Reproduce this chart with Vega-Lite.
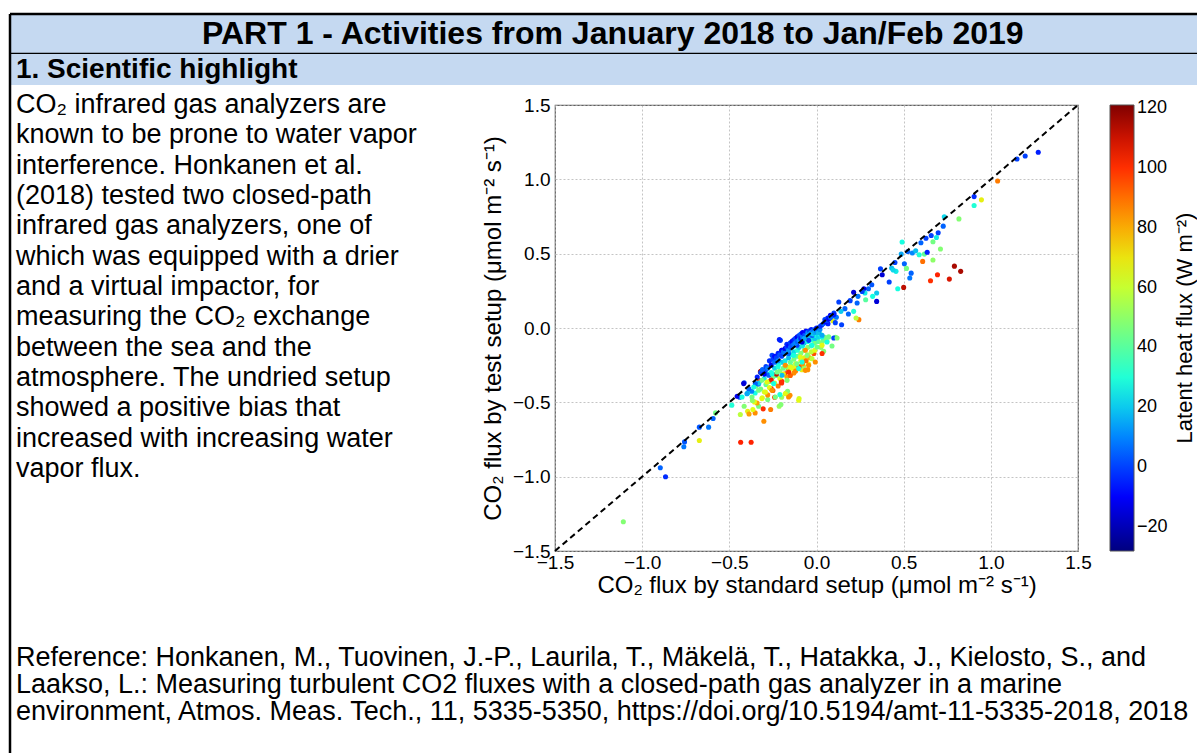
{
  "$schema": "https://vega.github.io/schema/vega-lite/v6.json",
  "background": "white",
  "padding": {"left": 8, "top": 12, "right": 0, "bottom": 0},
  "config": {"view": {"stroke": null}, "font": "Liberation Sans"},
  "bounds": "flush",
  "spacing": 0,
  "vconcat": [
    {
      "width": 1189,
      "height": 40,
      "view": {"fill": "#c5d9f1", "stroke": null},
      "data": {"values": [{"t": "PART 1 - Activities from January 2018 to Jan/Feb 2019"}]},
      "layer": [
        {
          "mark": {"type": "text", "fontSize": 32, "fontWeight": "bold", "font": "Liberation Sans", "baseline": "middle", "align": "center", "color": "black"},
          "encoding": {
            "text": {"field": "t"},
            "x": {"datum": 0.507, "type": "quantitative", "scale": {"domain": [0, 1]}, "axis": null},
            "y": {"datum": 0.5, "type": "quantitative", "scale": {"domain": [0, 1]}, "axis": null}
          }
        },
        {"mark": {"type": "rule", "color": "black", "strokeWidth": 2.5}, "encoding": {"y": {"datum": 1, "type": "quantitative", "scale": {"domain": [0, 1]}, "axis": null}}},
        {"mark": {"type": "rule", "color": "black", "strokeWidth": 2.5}, "encoding": {"y": {"datum": 0, "type": "quantitative", "scale": {"domain": [0, 1]}, "axis": null}}},
        {"mark": {"type": "rule", "color": "black", "strokeWidth": 2.5}, "encoding": {"x": {"datum": 0, "type": "quantitative", "scale": {"domain": [0, 1]}, "axis": null}}}
      ]
    },
    {
      "width": 1189,
      "height": 31,
      "view": {"fill": "#c5d9f1", "stroke": null},
      "data": {"values": [{"t": "1. Scientific highlight"}]},
      "layer": [
        {
          "mark": {"type": "text", "fontSize": 28, "fontWeight": "bold", "font": "Liberation Sans", "baseline": "middle", "align": "left", "color": "black"},
          "encoding": {
            "text": {"field": "t"},
            "x": {"datum": 0.005, "type": "quantitative", "scale": {"domain": [0, 1]}, "axis": null},
            "y": {"datum": 0.5, "type": "quantitative", "scale": {"domain": [0, 1]}, "axis": null}
          }
        },
        {"mark": {"type": "rule", "color": "black", "strokeWidth": 2.5}, "encoding": {"x": {"datum": 0, "type": "quantitative", "scale": {"domain": [0, 1]}, "axis": null}}}
      ]
    },
    {
      "bounds": "flush",
      "spacing": 0,
      "hconcat": [
        {
          "width": 545,
          "height": 670,
          "layer": [
            {
              "data": {"values": [{"a": 0}]},
              "mark": {"type": "rule", "color": "black", "strokeWidth": 2.5},
              "encoding": {"x": {"datum": 0, "type": "quantitative", "scale": {"domain": [0, 1]}, "axis": null}}
            },
            {
              "data": {"values": [
                {"line": 1, "t": "CO₂ infrared gas analyzers are"},
                {"line": 2, "t": "known to be prone to water vapor"},
                {"line": 3, "t": "interference. Honkanen et al."},
                {"line": 4, "t": "(2018) tested two closed-path"},
                {"line": 5, "t": "infrared gas analyzers, one of"},
                {"line": 6, "t": "which was equipped with a drier"},
                {"line": 7, "t": "and a virtual impactor, for"},
                {"line": 8, "t": "measuring the CO₂ exchange"},
                {"line": 9, "t": "between the sea and the"},
                {"line": 10, "t": "atmosphere. The undried setup"},
                {"line": 11, "t": "showed a positive bias that"},
                {"line": 12, "t": "increased with increasing water"},
                {"line": 13, "t": "vapor flux."}
              ]},
              "mark": {"type": "text", "fontSize": 27, "font": "Liberation Sans", "baseline": "middle", "align": "left", "color": "black"},
              "encoding": {
                "text": {"field": "t"},
                "x": {"datum": 0.011, "type": "quantitative", "scale": {"domain": [0, 1]}, "axis": null},
                "y": {"field": "line", "type": "quantitative", "scale": {"domain": [1, 13], "range": [20, 384]}, "axis": null}
              }
            },
            {
              "data": {"values": [
                {"line": 1, "t": "Reference: Honkanen, M., Tuovinen, J.-P., Laurila, T., Mäkelä, T., Hatakka, J., Kielosto, S., and"},
                {"line": 2, "t": "Laakso, L.: Measuring turbulent CO2 fluxes with a closed-path gas analyzer in a marine"},
                {"line": 3, "t": "environment, Atmos. Meas. Tech., 11, 5335-5350, https://doi.org/10.5194/amt-11-5335-2018, 2018"}
              ]},
              "mark": {"type": "text", "fontSize": 27, "font": "Liberation Sans", "baseline": "middle", "align": "left", "color": "black"},
              "encoding": {
                "text": {"field": "t"},
                "x": {"datum": 0.011, "type": "quantitative", "scale": {"domain": [0, 1]}, "axis": null},
                "y": {"field": "line", "type": "quantitative", "scale": {"domain": [1, 3], "range": [573, 627]}, "axis": null}
              }
            }
          ],
          "resolve": {"scale": {"y": "independent"}}
        },
        {
          "bounds": "flush",
          "spacing": 0,
          "vconcat": [
            {
              "width": 523,
              "height": 20,
              "data": {"values": [{"a": 0}]},
              "mark": {"type": "text", "text": ""}
            },
            {
              "width": 523,
              "height": 446,
              "view": {"stroke": "#606060", "strokeWidth": 1.2},
              "layer": [
                {
                  "data": {"values": [
{"x":1.272,"y":1.182,"c":-5},{"x":1.197,"y":1.157,"c":0},{"x":1.150,"y":1.137,"c":0},{"x":1.039,"y":0.989,"c":88},{"x":0.904,"y":0.884,"c":-3},{"x":0.904,"y":0.824,"c":30},{"x":0.946,"y":0.862,"c":68},{"x":0.817,"y":0.734,"c":48},{"x":0.733,"y":0.748,"c":22},{"x":0.727,"y":0.685,"c":5},
{"x":0.698,"y":0.640,"c":0},{"x":0.688,"y":0.609,"c":25},{"x":0.658,"y":0.622,"c":0},{"x":0.668,"y":0.580,"c":45},{"x":0.599,"y":0.573,"c":5},{"x":0.628,"y":0.604,"c":0},{"x":0.711,"y":0.531,"c":48},{"x":0.491,"y":0.578,"c":28},{"x":0.486,"y":0.497,"c":15},{"x":0.524,"y":0.515,"c":5},
{"x":0.550,"y":0.504,"c":10},{"x":0.569,"y":0.519,"c":18},{"x":0.589,"y":0.493,"c":30},{"x":0.619,"y":0.497,"c":42},{"x":0.635,"y":0.510,"c":-5},{"x":0.609,"y":0.448,"c":90},{"x":0.668,"y":0.457,"c":50},{"x":0.791,"y":0.416,"c":115},{"x":0.827,"y":0.381,"c":115},{"x":0.694,"y":0.358,"c":102},
{"x":0.762,"y":0.329,"c":108},{"x":0.654,"y":0.318,"c":100},{"x":0.504,"y":0.432,"c":5},{"x":0.516,"y":0.401,"c":45},{"x":0.543,"y":0.369,"c":5},{"x":0.535,"y":0.336,"c":8},{"x":0.500,"y":0.273,"c":112},{"x":0.466,"y":0.264,"c":28},{"x":0.417,"y":0.309,"c":0},{"x":0.450,"y":0.441,"c":0},
{"x":0.431,"y":0.403,"c":18},{"x":0.456,"y":0.381,"c":25},{"x":0.440,"y":0.390,"c":22},{"x":0.367,"y":0.398,"c":0},{"x":0.377,"y":0.358,"c":-15},{"x":0.317,"y":0.291,"c":3},{"x":0.345,"y":0.235,"c":20},{"x":0.345,"y":0.179,"c":-15},{"x":0.322,"y":0.213,"c":28},{"x":0.298,"y":0.264,"c":5},
{"x":0.272,"y":0.264,"c":-12},{"x":0.278,"y":0.235,"c":25},{"x":0.282,"y":0.190,"c":40},{"x":0.262,"y":0.246,"c":0},{"x":0.213,"y":0.240,"c":-15},{"x":0.193,"y":0.184,"c":0},{"x":0.233,"y":0.168,"c":5},{"x":0.238,"y":0.213,"c":8},{"x":0.243,"y":0.056,"c":88},{"x":0.227,"y":0.067,"c":58},
{"x":0.128,"y":0.175,"c":0},{"x":0.163,"y":0.130,"c":5},{"x":0.144,"y":0.022,"c":0},{"x":0.140,"y":0.112,"c":20},{"x":0.183,"y":0.094,"c":5},{"x":0.213,"y":0.112,"c":30},{"x":0.109,"y":-0.063,"c":45},{"x":0.094,"y":0.049,"c":68},{"x":0.080,"y":0.085,"c":-10},{"x":0.064,"y":0.067,"c":-5},
{"x":0.048,"y":0.056,"c":0},{"x":0.054,"y":0.045,"c":-15},{"x":0.114,"y":0.072,"c":8},{"x":0.100,"y":0.100,"c":0},{"x":-0.486,"y":-0.519,"c":30},{"x":-0.441,"y":-0.466,"c":5},{"x":-0.455,"y":-0.459,"c":-12},{"x":-0.415,"y":-0.369,"c":0},{"x":-0.579,"y":-0.571,"c":45},{"x":-0.593,"y":-0.609,"c":5},
{"x":-0.619,"y":-0.667,"c":8},{"x":-0.672,"y":-0.667,"c":3},{"x":-0.672,"y":-0.757,"c":68},{"x":-0.757,"y":-0.766,"c":3},{"x":-0.761,"y":-0.799,"c":8},{"x":-0.896,"y":-0.940,"c":5},{"x":-0.866,"y":-1.001,"c":-3},{"x":-1.108,"y":-1.303,"c":48},{"x":-0.435,"y":-0.768,"c":102},{"x":-0.375,"y":-0.768,"c":102},
{"x":-0.302,"y":-0.627,"c":85},{"x":-0.437,"y":-0.582,"c":58},{"x":-0.395,"y":-0.560,"c":68},{"x":-0.387,"y":-0.578,"c":82},{"x":-0.352,"y":-0.571,"c":85},{"x":-0.415,"y":-0.526,"c":48},{"x":-0.365,"y":-0.548,"c":65},{"x":-0.306,"y":-0.544,"c":100},{"x":-0.263,"y":-0.548,"c":88},{"x":-0.214,"y":-0.526,"c":52},
{"x":-0.204,"y":-0.515,"c":48},{"x":-0.332,"y":-0.526,"c":45},{"x":-0.341,"y":-0.504,"c":82},{"x":-0.356,"y":-0.497,"c":66},{"x":-0.368,"y":-0.488,"c":50},{"x":-0.311,"y":-0.470,"c":62},{"x":-0.260,"y":-0.407,"c":100},{"x":-0.240,"y":-0.466,"c":98},{"x":-0.280,"y":-0.481,"c":45},{"x":-0.200,"y":-0.466,"c":52},
{"x":-0.100,"y":-0.475,"c":62},{"x":-0.152,"y":-0.452,"c":85},{"x":-0.175,"y":-0.437,"c":68},{"x":-0.166,"y":-0.425,"c":48},{"x":-0.210,"y":-0.448,"c":30},{"x":-0.199,"y":-0.358,"c":102},{"x":-0.327,"y":-0.354,"c":98},{"x":-0.320,"y":-0.291,"c":112},{"x":-0.352,"y":-0.437,"c":28},{"x":-0.372,"y":-0.425,"c":10},
{"x":-0.395,"y":-0.437,"c":20},{"x":-0.348,"y":-0.392,"c":45},{"x":-0.333,"y":-0.376,"c":5},{"x":-0.163,"y":-0.291,"c":112},{"x":-0.183,"y":-0.309,"c":100},{"x":-0.130,"y":-0.302,"c":85},{"x":-0.084,"y":-0.280,"c":68},{"x":-0.050,"y":-0.280,"c":85},{"x":-0.045,"y":-0.242,"c":65},{"x":-0.015,"y":-0.172,"c":95},
{"x":0.048,"y":-0.063,"c":45},{"x":0.041,"y":-0.157,"c":48},{"x":0.025,"y":-0.130,"c":50},{"x":-0.074,"y":-0.257,"c":52},{"x":-0.144,"y":-0.257,"c":48},{"x":-0.118,"y":-0.269,"c":66},
{"x":-0.32,"y":-0.41,"c":45},{"x":-0.29,"y":-0.38,"c":42},{"x":-0.27,"y":-0.36,"c":50},{"x":-0.25,"y":-0.33,"c":45},{"x":-0.23,"y":-0.32,"c":40},{"x":-0.21,"y":-0.29,"c":48},{"x":-0.19,"y":-0.27,"c":44},{"x":-0.17,"y":-0.26,"c":50},{"x":-0.15,"y":-0.23,"c":42},{"x":-0.13,"y":-0.21,"c":46},
{"x":-0.11,"y":-0.19,"c":40},{"x":-0.09,"y":-0.17,"c":48},{"x":-0.07,"y":-0.15,"c":44},{"x":-0.05,"y":-0.13,"c":50},{"x":-0.03,"y":-0.12,"c":42},{"x":-0.01,"y":-0.10,"c":46},{"x":0.01,"y":-0.09,"c":40},{"x":0.03,"y":-0.10,"c":48},{"x":0.04,"y":-0.08,"c":44},{"x":0.06,"y":-0.09,"c":50},
{"x":-0.30,"y":-0.43,"c":62},{"x":-0.27,"y":-0.40,"c":66},{"x":-0.24,"y":-0.37,"c":60},{"x":-0.21,"y":-0.34,"c":65},{"x":-0.19,"y":-0.31,"c":68},{"x":-0.16,"y":-0.29,"c":62},{"x":-0.14,"y":-0.27,"c":66},{"x":-0.12,"y":-0.24,"c":60},{"x":-0.09,"y":-0.22,"c":64},{"x":-0.07,"y":-0.20,"c":68},
{"x":-0.05,"y":-0.18,"c":62},{"x":-0.03,"y":-0.16,"c":58},{"x":-0.01,"y":-0.15,"c":64},
{"x":-0.28,"y":-0.45,"c":85},{"x":-0.25,"y":-0.42,"c":95},{"x":-0.22,"y":-0.39,"c":88},{"x":-0.20,"y":-0.37,"c":100},{"x":-0.17,"y":-0.33,"c":82},{"x":-0.15,"y":-0.32,"c":92},{"x":-0.12,"y":-0.29,"c":86},{"x":-0.10,"y":-0.26,"c":98},{"x":-0.08,"y":-0.24,"c":84},{"x":-0.06,"y":-0.22,"c":90},
{"x":-0.04,"y":-0.20,"c":80},{"x":-0.26,"y":-0.35,"c":105},{"x":-0.23,"y":-0.31,"c":110},
{"x":-0.33,"y":-0.37,"c":20},{"x":-0.30,"y":-0.34,"c":25},{"x":-0.28,"y":-0.31,"c":18},{"x":-0.26,"y":-0.30,"c":28},{"x":-0.24,"y":-0.27,"c":22},{"x":-0.22,"y":-0.26,"c":30},{"x":-0.20,"y":-0.23,"c":20},{"x":-0.18,"y":-0.22,"c":25},{"x":-0.16,"y":-0.20,"c":18},{"x":-0.14,"y":-0.18,"c":28},
{"x":-0.13,"y":-0.16,"c":22},{"x":-0.11,"y":-0.15,"c":30},{"x":-0.10,"y":-0.13,"c":20},{"x":-0.08,"y":-0.12,"c":25},{"x":-0.07,"y":-0.10,"c":18},{"x":-0.05,"y":-0.09,"c":28},{"x":-0.04,"y":-0.07,"c":22},{"x":-0.03,"y":-0.08,"c":30},{"x":-0.02,"y":-0.06,"c":25},{"x":-0.01,"y":-0.07,"c":20},
{"x":0.00,"y":-0.05,"c":28},{"x":0.01,"y":-0.06,"c":22},{"x":0.02,"y":-0.04,"c":30},{"x":0.03,"y":-0.06,"c":26},
{"x":0.066,"y":0.029,"c":-5},{"x":0.108,"y":0.036,"c":0},{"x":0.012,"y":-0.027,"c":-5},{"x":-0.026,"y":-0.049,"c":0},{"x":-0.064,"y":-0.060,"c":-8},{"x":0.032,"y":-0.049,"c":15},{"x":0.070,"y":-0.060,"c":45},{"x":0.099,"y":-0.067,"c":0},{"x":0.118,"y":-0.067,"c":48},{"x":0.060,"y":-0.094,"c":28},
{"x":0.032,"y":-0.116,"c":66},{"x":0.089,"y":-0.121,"c":45},{"x":-0.045,"y":-0.083,"c":0},{"x":-0.083,"y":-0.094,"c":-15},{"x":-0.112,"y":-0.116,"c":0},{"x":-0.140,"y":-0.128,"c":18},{"x":-0.026,"y":-0.116,"c":28},{"x":0.003,"y":-0.128,"c":45},{"x":-0.064,"y":-0.150,"c":85},{"x":0.032,"y":-0.172,"c":100},
{"x":-0.207,"y":-0.083,"c":0},{"x":-0.198,"y":-0.150,"c":0},{"x":-0.179,"y":-0.139,"c":-15},{"x":-0.160,"y":-0.172,"c":5},{"x":-0.131,"y":-0.184,"c":28},{"x":-0.093,"y":-0.195,"c":66},{"x":-0.054,"y":-0.184,"c":48},{"x":-0.026,"y":-0.206,"c":58},{"x":-0.007,"y":-0.229,"c":85},{"x":-0.083,"y":-0.229,"c":28},
{"x":-0.112,"y":-0.240,"c":45},{"x":-0.045,"y":-0.251,"c":85},{"x":-0.255,"y":-0.184,"c":0},{"x":-0.236,"y":-0.217,"c":-15},{"x":-0.217,"y":-0.240,"c":28},{"x":-0.179,"y":-0.251,"c":85},{"x":-0.150,"y":-0.262,"c":66},{"x":-0.102,"y":-0.273,"c":28},{"x":-0.064,"y":-0.285,"c":85},{"x":-0.322,"y":-0.296,"c":115},
{"x":-0.293,"y":-0.285,"c":0},{"x":-0.274,"y":-0.318,"c":5},{"x":-0.255,"y":-0.307,"c":28},{"x":-0.226,"y":-0.296,"c":45},{"x":-0.198,"y":-0.318,"c":18},{"x":-0.160,"y":-0.296,"c":100},{"x":-0.313,"y":-0.352,"c":45},{"x":-0.284,"y":-0.363,"c":66},{"x":-0.246,"y":-0.374,"c":28},{"x":-0.202,"y":-0.363,"c":100},
{"x":-0.169,"y":-0.352,"c":48},{"x":-0.351,"y":-0.374,"c":5},{"x":-0.360,"y":-0.397,"c":28},{"x":-0.332,"y":-0.419,"c":45},{"x":-0.293,"y":-0.430,"c":66},{"x":-0.255,"y":-0.419,"c":85},{"x":-0.418,"y":-0.374,"c":-15},{"x":-0.389,"y":-0.408,"c":5},{"x":-0.399,"y":-0.442,"c":15},{"x":-0.427,"y":-0.464,"c":28},
{"x":-0.370,"y":-0.464,"c":45},{"x":-0.313,"y":-0.475,"c":66},{"x":-0.236,"y":-0.464,"c":45},{"x":-0.179,"y":-0.442,"c":66},{"x":-0.160,"y":-0.464,"c":85},{"x":-0.102,"y":-0.486,"c":66},
{"x":-0.34,"y":-0.33,"c":-5},{"x":-0.32,"y":-0.30,"c":0},{"x":-0.31,"y":-0.28,"c":5},{"x":-0.30,"y":-0.31,"c":-10},{"x":-0.29,"y":-0.26,"c":0},{"x":-0.28,"y":-0.27,"c":8},{"x":-0.27,"y":-0.22,"c":-3},{"x":-0.26,"y":-0.25,"c":-12},{"x":-0.25,"y":-0.21,"c":0},{"x":-0.24,"y":-0.23,"c":5},
{"x":-0.24,"y":-0.19,"c":-8},{"x":-0.23,"y":-0.20,"c":0},{"x":-0.22,"y":-0.17,"c":-5},{"x":-0.22,"y":-0.22,"c":10},{"x":-0.21,"y":-0.18,"c":3},{"x":-0.20,"y":-0.15,"c":-10},{"x":-0.20,"y":-0.19,"c":0},{"x":-0.19,"y":-0.16,"c":5},{"x":-0.213,"y":-0.078,"c":-5},{"x":-0.18,"y":-0.14,"c":-12},
{"x":-0.18,"y":-0.17,"c":8},{"x":-0.17,"y":-0.13,"c":0},{"x":-0.17,"y":-0.11,"c":-3},{"x":-0.16,"y":-0.15,"c":12},{"x":-0.16,"y":-0.12,"c":-8},{"x":-0.15,"y":-0.10,"c":0},{"x":-0.15,"y":-0.13,"c":5},{"x":-0.14,"y":-0.09,"c":-10},{"x":-0.14,"y":-0.12,"c":3},{"x":-0.13,"y":-0.11,"c":8},
{"x":-0.13,"y":-0.08,"c":-5},{"x":-0.12,"y":-0.07,"c":0},{"x":-0.12,"y":-0.10,"c":10},{"x":-0.11,"y":-0.06,"c":-12},{"x":-0.11,"y":-0.09,"c":5},{"x":-0.10,"y":-0.05,"c":0},{"x":-0.10,"y":-0.08,"c":12},{"x":-0.09,"y":-0.07,"c":-5},{"x":-0.09,"y":-0.04,"c":3},{"x":-0.08,"y":-0.06,"c":8},
{"x":-0.08,"y":-0.03,"c":-10},{"x":-0.07,"y":-0.05,"c":0},{"x":-0.07,"y":-0.07,"c":15},{"x":-0.06,"y":-0.04,"c":5},{"x":-0.06,"y":-0.02,"c":-8},{"x":-0.05,"y":-0.03,"c":10},{"x":-0.05,"y":-0.05,"c":18},{"x":-0.04,"y":-0.02,"c":0},{"x":-0.04,"y":-0.04,"c":12},{"x":-0.03,"y":-0.01,"c":-5},
{"x":-0.03,"y":-0.03,"c":15},{"x":-0.02,"y":-0.02,"c":8},{"x":-0.02,"y":-0.04,"c":20},{"x":-0.01,"y":-0.01,"c":3},{"x":-0.01,"y":-0.03,"c":15},{"x":0.00,"y":-0.02,"c":10},{"x":0.00,"y":0.00,"c":-5},{"x":0.01,"y":-0.03,"c":18},{"x":0.02,"y":-0.01,"c":12},{"x":0.02,"y":0.01,"c":0},
{"x":0.03,"y":0.02,"c":-3},{"x":0.04,"y":0.03,"c":5},{"x":0.05,"y":0.04,"c":-8},{"x":0.06,"y":0.05,"c":0},{"x":0.07,"y":0.06,"c":-10},{"x":0.08,"y":0.07,"c":3},{"x":0.09,"y":0.08,"c":5},{"x":0.10,"y":0.09,"c":-5}
                  ]},
                  "mark": {"type": "circle", "size": 26, "opacity": 1},
                  "encoding": {
                    "x": {
                      "field": "x", "type": "quantitative",
                      "scale": {"domain": [-1.5, 1.5], "nice": false, "zero": false},
                      "axis": {
                        "title": "CO₂ flux by standard setup (μmol m⁻² s⁻¹)",
                        "values": [-1.5, -1, -0.5, 0, 0.5, 1, 1.5], "format": ".1f",
                        "grid": true, "gridDash": [2, 2], "gridColor": "#b5b5b5", "gridWidth": 0.8,
                        "domain": false, "ticks": false,
                        "labelFont": "Liberation Sans", "labelFontSize": 19, "labelColor": "black", "labelPadding": 2,
                        "labelFlush": false, "labelOverlap": false,
                        "titleFont": "Liberation Sans", "titleFontSize": 24, "titleFontWeight": "normal", "titleColor": "black", "titlePadding": 1
                      }
                    },
                    "y": {
                      "field": "y", "type": "quantitative",
                      "scale": {"domain": [-1.5, 1.5], "nice": false, "zero": false},
                      "axis": {
                        "title": "CO₂ flux by test setup (μmol m⁻² s⁻¹)",
                        "values": [-1.5, -1, -0.5, 0, 0.5, 1, 1.5], "format": ".1f",
                        "grid": true, "gridDash": [2, 2], "gridColor": "#b5b5b5", "gridWidth": 0.8,
                        "domain": false, "ticks": false,
                        "labelFont": "Liberation Sans", "labelFontSize": 19, "labelColor": "black", "labelPadding": 5,
                        "labelFlush": false, "labelOverlap": false,
                        "titleFont": "Liberation Sans", "titleFontSize": 24, "titleFontWeight": "normal", "titleColor": "black", "titlePadding": 7
                      }
                    },
                    "color": {
                      "field": "c", "type": "quantitative",
                      "scale": {
                        "domain": [-28, -9.375, 9.25, 27.875, 46.5, 65.125, 83.75, 102.375, 121],
                        "range": ["#00007f", "#0000ff", "#0080ff", "#15ffe2", "#7bff7b", "#e2ff15", "#ff9700", "#ff2000", "#800000"],
                        "interpolate": "rgb"
                      },
                      "legend": {
                        "title": "Latent heat flux (W m⁻²)",
                        "orient": "none", "legendX": 1100, "legendY": 91, "padding": 0, "direction": "vertical",
                        "gradientLength": 446, "gradientThickness": 24,
                        "gradientStrokeColor": "#555555", "gradientStrokeWidth": 1,
                        "values": [-20, 0, 20, 40, 60, 80, 100, 120],
                        "labelFont": "Liberation Sans", "labelFontSize": 18, "labelColor": "black", "labelOffset": 3, "labelOverlap": false,
                        "titleOrient": "right", "titleAnchor": "middle", "titleFont": "Liberation Sans", "titleFontSize": 22,
                        "titleFontWeight": "normal", "titleColor": "black", "titlePadding": 7, "titleLimit": 400,
                        "encoding": {"title": {"angle": {"value": -90}, "baseline": {"value": "top"}}}
                      }
                    }
                  }
                },
                {
                  "data": {"values": [{"x": -1.5, "y": -1.5}, {"x": 1.5, "y": 1.5}]},
                  "mark": {"type": "line", "color": "black", "strokeDash": [6, 4], "strokeWidth": 2},
                  "encoding": {
                    "x": {"field": "x", "type": "quantitative"},
                    "y": {"field": "y", "type": "quantitative"}
                  }
                }
              ]
            }
          ]
        }
      ]
    }
  ]
}
